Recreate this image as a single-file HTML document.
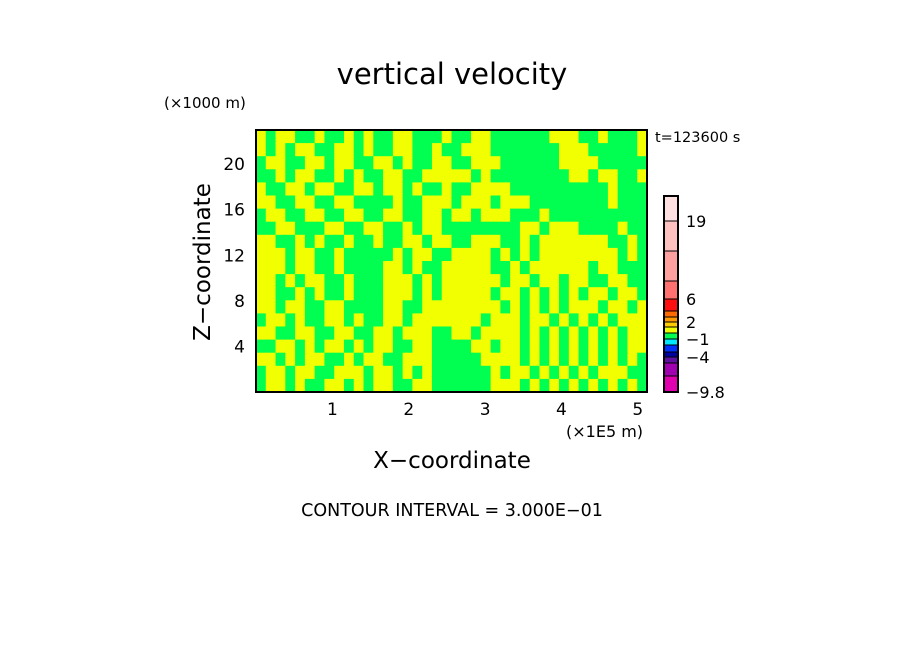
<!DOCTYPE html>
<html><head><meta charset="utf-8"><style>
html,body{margin:0;padding:0;background:#fff;width:904px;height:654px;overflow:hidden}
svg text{font-family:"DejaVu Sans","Liberation Sans",sans-serif;fill:#000}
</style></head><body>
<svg id="chart" width="904" height="654" viewBox="0 0 904 654" xmlns="http://www.w3.org/2000/svg">
<text x="452" y="84" font-size="29" text-anchor="middle">vertical velocity</text>
<text x="164" y="108" font-size="15">(×1000 m)</text>
<text x="655" y="142" font-size="14.5">t=123600 s</text>
<text x="566" y="437" font-size="16">(×1E5 m)</text>
<text x="452" y="468" font-size="23" text-anchor="middle">X−coordinate</text>
<text x="210" y="262" font-size="23" text-anchor="middle" transform="rotate(-90 210 262)">Z−coordinate</text>
<text x="452" y="516" font-size="17.5" text-anchor="middle">CONTOUR INTERVAL = 3.000E−01</text>
<g id="field"></g>
<g id="ticks"></g>
<rect x="256" y="130" width="391" height="262" fill="none" stroke="#000" stroke-width="2"/>
<g id="cbar"></g>
</svg>
<script>
const xTicks=[1,2,3,4,5];
const zTicks=[4,8,12,16,20];
const xMax=5.12, zMax=23;
const fieldRows=[
"ygyyggyggygyggyygggyggyyggggggyyyggygggy",
"ygygyyggyygyggyyggyggyyygggggggyyygggggy",
"gyyggyygyyggyygyggyyggyyyggggggyyyyggggg",
"ggygyyggygyggyyggyyyyygyggggggggyygyyggy",
"yggyygyyggyygyygyggyggyyyyggggggggggyggg",
"yyggyyggyyggggyggyyygyyygyyyggggggggyggg",
"gyyggyyggyyggyyggyygyygyyygggygggggggggg",
"ggyygggyyggyyggygyyggggggggyygyyyggggygg",
"yyggygyggyggyggyygyyggyyyggygyyyyyyyggyg",
"yyygyyggygggggygyyggyyyygygygyyyyyyyygyg",
"yyygyyggyggggyygyggyyyyyggygyyyyyygyyggg",
"yygygyyggygggyyygygyyyyyygyygyygyyggyygg",
"yyggygyggygggyyygygyyyyygyygygygygyygyyg",
"yygyyggyyggggyyggyyyyyyyygygygygyyygyygy",
"gyygyggyygyggyygyyyyyyygyyygyygygygygyyy",
"yyggyyggyyggyygyyyggyygyyyygygygygygygyy",
"ggyygygyygygyyggyyggggyygyygygygygygygyy",
"yygygyyggygyyggyyygggggyyyygygygygygygyg",
"gyygyyggyyygyygygyggggggygyygygygygyyygg",
"gyygyggyygygyyggyyggggggyyygygygygygygyg"];
const cbarColors=["#e000b0","#a000b0","#6010a0","#0000a0","#0030ff","#00e8ff","#00ff50","#f0ff00","#ffcc00","#ff9900","#ff6a00","#ff1010","#ff7070","#ffa0a0","#ffc0c0","#ffe0e0"];
const cbarHeights=[16,13,6,5,7,6,6,6,5,5,6,12,18,30,30,25];
const cbarLabels=["−9.8","−4","−1","2","6","19"];
const cbarLabelIdx=[0,3,6,9,12,15];
const PX0=256,PX1=647,PY0=130,PY1=392;
const xs=v=>PX0+(v/xMax)*(PX1-PX0);
const zs=v=>PY1-(v/zMax)*(PY1-PY0);
const NS="http://www.w3.org/2000/svg";
const field=document.getElementById('field');
const nr=fieldRows.length,nc=fieldRows[0].length;
const cw=(PX1-PX0)/nc,ch=(PY1-PY0)/nr;
fieldRows.forEach((row,r)=>{[...row].forEach((c,i)=>{
 const e=document.createElementNS(NS,'rect');
 e.setAttribute('x',PX0+i*cw);e.setAttribute('y',PY0+r*ch);
 e.setAttribute('width',cw+0.6);e.setAttribute('height',ch+0.6);
 e.setAttribute('fill',c==='g'?'#00ff50':'#f2ff00');
 
 
 field.appendChild(e);});});
const tk=document.getElementById('ticks');
xTicks.forEach(v=>{const t=document.createElementNS(NS,'text');
 t.setAttribute('x',xs(v));t.setAttribute('y',415);t.setAttribute('font-size','17');t.setAttribute('text-anchor','middle');
 t.textContent=v;
 
 
 tk.appendChild(t);});
zTicks.forEach(v=>{const t=document.createElementNS(NS,'text');
 t.setAttribute('x',245);t.setAttribute('y',zs(v)+6);t.setAttribute('font-size','17');t.setAttribute('text-anchor','end');
 t.textContent=v;
 
 
 tk.appendChild(t);});
const cb=document.getElementById('cbar');
let y=392;const ys=[y];
cbarColors.forEach((c,i)=>{const h=cbarHeights[i];y-=h;ys.push(y);
 const e=document.createElementNS(NS,'rect');
 e.setAttribute('x',664);e.setAttribute('y',y);e.setAttribute('width',14);e.setAttribute('height',h);
 e.setAttribute('fill',c);e.setAttribute('stroke','#000');e.setAttribute('stroke-width','1');
 
 
 cb.appendChild(e);});
const fr=document.createElementNS(NS,'rect');
fr.setAttribute('x',664);fr.setAttribute('y',y);fr.setAttribute('width',14);fr.setAttribute('height',392-y);
fr.setAttribute('fill','none');fr.setAttribute('stroke','#000');fr.setAttribute('stroke-width','2');


cb.appendChild(fr);
cbarLabels.forEach((l,k)=>{const t=document.createElementNS(NS,'text');
 t.setAttribute('x',686);t.setAttribute('y',ys[cbarLabelIdx[k]]+6);t.setAttribute('font-size','16');
 t.textContent=l;
 
 
 cb.appendChild(t);});
</script>
</body></html>
